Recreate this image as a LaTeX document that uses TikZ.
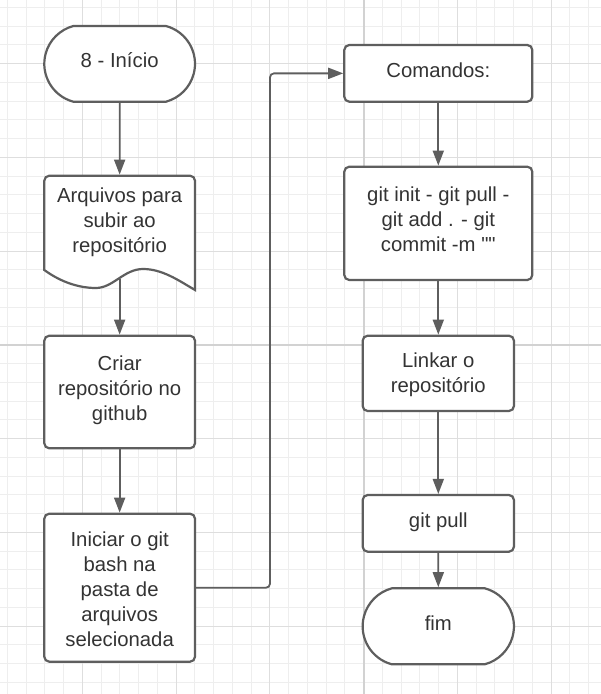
\documentclass[tikz,border=0pt]{standalone}
\usepackage{fontspec}
\setmainfont{Liberation Sans}[Ligatures=TeXOff]
\usetikzlibrary{arrows.meta,shapes.misc}
\definecolor{gminor}{HTML}{EEEEEE}
\definecolor{gmajor}{HTML}{DEDEDE}
\definecolor{gpage}{HTML}{D2D2D2}
\definecolor{lnc}{HTML}{5E5E5E}
\definecolor{txc}{HTML}{333333}
\newcommand\lstrut{\rule[-8.5pt]{0pt}{25pt}}
\newcommand\dnrule[1]{\rule{0pt}{#1}}
\begin{document}
\begin{tikzpicture}[x=1pt,y=-1pt,
  txt/.style={font=\fontsize{20.3}{25}\selectfont, text=txc, align=center,
    inner sep=0pt, outer sep=1.1pt,
    execute at begin node=\lstrut, execute at end node=\lstrut},
  box/.style={txt, draw=lnc, line width=2.2pt, fill=white, rounded corners=5pt},
  term/.style={txt, rounded rectangle, rounded rectangle arc length=150,
    draw=lnc, line width=2.2pt, fill=white},
  shp/.style={draw=lnc, line width=2.2pt, fill=white},
  arr/.style={draw=lnc, line width=1.8pt, -{Triangle[length=15pt,width=11pt]}},
]
\useasboundingbox (0,0) rectangle (601,694);
\fill[white] (0,0) rectangle (601,694);
% grid
\foreach \k in {0,...,31} \draw[gminor, line width=1pt] (7.3+18.75*\k,0) -- (7.3+18.75*\k,694);
\foreach \k in {0,...,36} \draw[gminor, line width=1pt] (0,7.3+18.75*\k) -- (601,7.3+18.75*\k);
\foreach \x in {82.3,176.05,269.8,457.3,551.05} \draw[gmajor, line width=1pt] (\x,0) -- (\x,694);
\foreach \y in {63.55,157.3,251.05,438.55,532.3,626.05} \draw[gmajor, line width=1pt] (0,\y) -- (601,\y);
\draw[gpage, line width=1.6pt] (363.8,0) -- (363.8,694);
\draw[gpage, line width=1.6pt] (0,344.8) -- (601,344.8);

% left column
\node[term, minimum width=150.7pt, minimum height=75.7pt] (start) at (119.65,63.85) {8 - Início};
\draw[shp] (44.3,270) -- (44.3,180.7) arc[start angle=180, end angle=270, radius=5]
  -- (190,175.7) arc[start angle=270, end angle=360, radius=5]
  -- (195,290) .. controls (178,280) and (162,269) .. (143,269)
  .. controls (124,269) and (113,288) .. (96,288)
  .. controls (76,288) and (58,280) .. (44.3,270) -- cycle;
\node[txt, minimum width=150.7pt, minimum height=96.6pt] (doc) at (119.65,224) {Arquivos para\\subir ao\\repositório};
\coordinate (docb) at (119.65,279);
\node[box, minimum width=150.7pt, minimum height=112.6pt] (criar) at (119.65,392) {Criar\\repositório no\\github};
\node[box, minimum width=150.7pt, minimum height=148pt] (ini) at (119.65,587.7) {\dnrule{26.5pt}Iniciar o git\\bash na\\pasta de\\arquivos\\selecionada};

% right column
\node[box, minimum width=188pt, minimum height=56.7pt] (cmd) at (438.3,73.35) {Comandos:};
\node[box, minimum width=188pt, minimum height=113.3pt] (gi) at (438.3,223.35) {git init - git pull -\\git add . - git\\commit -m ""};
\node[box, minimum width=151.3pt, minimum height=75.3pt] (lk) at (438.3,373.35) {\dnrule{22.5pt}Linkar o\\repositório};
\node[box, minimum width=151.3pt, minimum height=56.7pt] (gp) at (438.3,523.35) {git pull};
\node[term, minimum width=151.3pt, minimum height=76pt] (fim) at (438.3,626.3) {fim};

\coordinate (bend) at (270,0);

% connectors
\draw[arr] (start) -- (doc);
\draw[arr] (docb) -- (criar);
\draw[arr] (criar) -- (ini);
\draw[arr, rounded corners=4pt] (ini.east) -| (bend |- cmd.west) -- (cmd.west);
\draw[arr] (cmd) -- (gi);
\draw[arr] (gi) -- (lk);
\draw[arr] (lk) -- (gp);
\draw[arr] (gp) -- (fim);
\end{tikzpicture}
\end{document}
